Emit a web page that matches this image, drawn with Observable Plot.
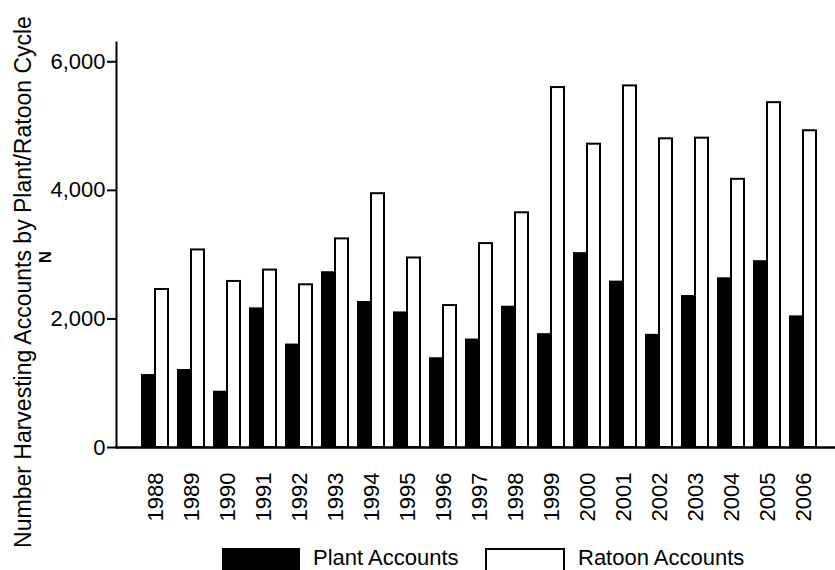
<!DOCTYPE html>
<html>
<head>
<meta charset="utf-8">
<script src="https://cdn.jsdelivr.net/npm/d3@7"></script>
<script src="https://cdn.jsdelivr.net/npm/@observablehq/plot@0.6"></script>
<style>
  html, body { margin: 0; padding: 0; background: #fff; }
  #wrap { position: relative; width: 835px; height: 570px; overflow: hidden; font-family: "Liberation Sans", Arial, sans-serif; }
  #chart svg { overflow: visible; }
  #legend { position: absolute; left: 0; top: 545px; width: 835px; height: 25px; font-size: 22px; color: #000; }
  .sw { position: absolute; top: 3px; height: 24px; box-sizing: border-box; }
  .lt { position: absolute; top: 2px; line-height: 22px; white-space: nowrap; }
</style>
</head>
<body>
<div id="wrap">
  <div id="chart"></div>
  <div id="legend">
    <div class="sw" style="left:222px;width:78px;background:#000;"></div>
    <div class="lt" style="left:313px;">Plant Accounts</div>
    <div class="sw" style="left:485px;width:80px;background:#fff;border:2px solid #000;"></div>
    <div class="lt" style="left:578px;">Ratoon Accounts</div>
  </div>
</div>
<script>
const years = ["1988","1989","1990","1991","1992","1993","1994","1995","1996","1997","1998","1999","2000","2001","2002","2003","2004","2005","2006"];
const plantAccounts = [1135,1213,875,2172,1609,2734,2271,2109,1396,1687,2198,1771,3031,2588,1760,2364,2640,2906,2047];
const ratoonAccounts = [2458,3073,2583,2760,2531,3245,3948,2948,2208,3172,3651,5599,4718,5625,4802,4812,4172,5364,4927];
const yTicks = [0, 2000, 4000, 6000];
const yLabel = "Number Harvesting Accounts by Plant/Ratoon Cycle";
const yUnit = "N";

const rows = years.map((y, i) => ({year: y, plant: plantAccounts[i], ratoon: ratoonAccounts[i]}));

const chart = Plot.plot({
  width: 835,
  height: 545,
  marginLeft: 116,
  marginRight: 0,
  marginTop: 42,
  marginBottom: 98,
  style: {fontFamily: "'Liberation Sans', Arial, sans-serif", fontSize: "22px", color: "#000", background: "#fff", overflow: "visible"},
  x: {domain: years, paddingInner: 0.22, paddingOuter: 0.58, align: 0.574, label: null},
  y: {domain: [0, 6300], label: null},
  marks: [
    Plot.barY(rows, {x: "year", y: "plant", fill: "#000", insetLeft: 0, insetRight: 14}),
    Plot.barY(rows, {x: "year", y: "ratoon", fill: "#fff", stroke: "#000", strokeWidth: 2, insetLeft: 14, insetRight: 1}),
    Plot.axisY({ticks: yTicks, tickFormat: d3.format(","), tickSize: 9, tickPadding: 2, strokeWidth: 2, fontSize: 22, label: null}),
    Plot.frame({anchor: "left", strokeWidth: 2, stroke: "#000"}),
    Plot.ruleY([0], {strokeWidth: 2.5}),
    Plot.axisX({tickSize: 0, tickRotate: -90, tickPadding: 25, fontSize: 22, label: null})
  ]
});
document.getElementById("chart").appendChild(chart);

const svg = d3.select(chart);
svg.append("text")
  .attr("transform", "translate(31,282) rotate(-90)")
  .attr("text-anchor", "middle")
  .style("font-size", "23px")
  .attr("fill", "#000")
  .text(yLabel);
svg.append("text")
  .attr("transform", "translate(51,257) rotate(-90)")
  .attr("text-anchor", "middle")
  .style("font-size", "17px")
  .style("font-weight", "bold")
  .attr("fill", "#000")
  .text(yUnit);
</script>
</body>
</html>
